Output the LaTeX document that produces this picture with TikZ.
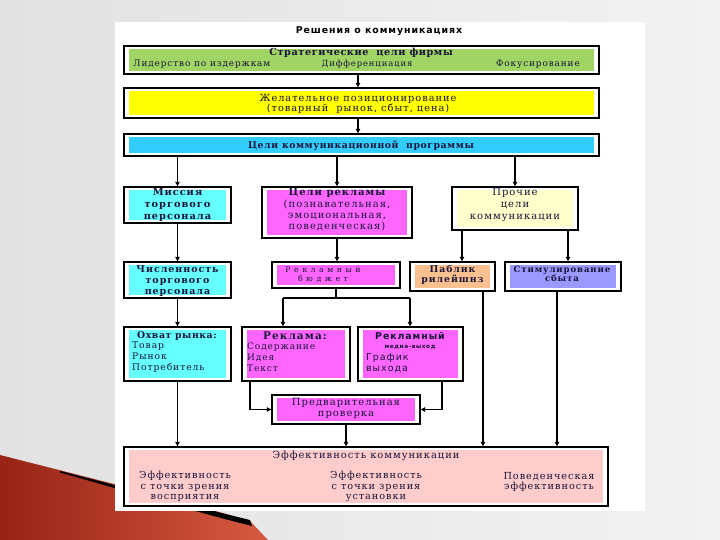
\documentclass[tikz,border=0pt]{standalone}
\usepackage{fontspec}
\setmainfont{DejaVu Serif}
\newfontfamily\dser[LetterSpace=10]{DejaVu Serif}
\newfontfamily\dsert[LetterSpace=6]{DejaVu Serif}
\newfontfamily\dserw[LetterSpace=45]{DejaVu Serif}
\newfontfamily\dsans[LetterSpace=10]{DejaVu Sans}
\usetikzlibrary{arrows.meta,calc}
\definecolor{bgL}{RGB}{226,226,226}
\definecolor{bgR}{RGB}{242,242,242}
\definecolor{swA}{RGB}{150,35,20}
\definecolor{swB}{RGB}{215,90,65}
\definecolor{cGreen}{RGB}{160,212,100}
\definecolor{cYellow}{RGB}{255,255,0}
\definecolor{cSky}{RGB}{51,204,255}
\definecolor{cCyan}{RGB}{102,255,255}
\definecolor{cMag}{RGB}{255,102,255}
\definecolor{cLYel}{RGB}{255,255,204}
\definecolor{cOrange}{RGB}{250,192,144}
\definecolor{cBlue}{RGB}{153,153,255}
\definecolor{cPink}{RGB}{255,204,204}
\definecolor{tcol}{RGB}{25,20,55}
\begin{document}
\begin{tikzpicture}[x=1pt,y=-1pt,
  cbox/.style={draw=black, line width=1.4pt, fill=white, rectangle, inner sep=0pt,
    path picture={\fill[#1] ([xshift=5pt,yshift=-3pt]path picture bounding box.north west) rectangle ([xshift=-5pt,yshift=3pt]path picture bounding box.south east);}},
  txt/.style={inner sep=0pt, text=tcol, align=center, font=\dser\fontsize{8}{11}\selectfont},
  arr/.style={line width=1.3pt, -{Triangle[length=4.5pt,width=4.5pt]}},
  ln/.style={line width=1.3pt}]
\useasboundingbox (0,0) rectangle (720,540);
% background
\shade[left color=bgL, right color=bgR] (0,0) rectangle (720,540);
\shade[left color=swA, right color=swB] (0,455) .. controls (90,478) and (180,500) .. (250,521) -- (268,540) -- (0,540) -- cycle;
\fill[black] (60,471) .. controls (150,494) and (200,508) .. (250,520) -- (252,526) .. controls (200,513) and (150,498) .. (60,472.5) -- cycle;
\fill[white] (115,22) rectangle (645,511);

% column coordinates
\coordinate (c358) at (358,0);
\coordinate (c462) at (462,0);
\coordinate (c568) at (568,0);
\coordinate (c283) at (283,0);
\coordinate (c410) at (410,0);
\coordinate (c250) at (250,0);
\coordinate (c442) at (442,0);
\coordinate (c483) at (483,0);
\coordinate (c557) at (557,0);
\coordinate (split) at (336,298);

% boxes
\node[cbox=cGreen, minimum width=475pt, minimum height=28pt] (b1) at (361.5,60) {};
\node[cbox=cYellow, minimum width=475pt, minimum height=30pt] (b2) at (361.5,103) {};
\node[cbox=cSky, minimum width=475pt, minimum height=22pt] (b3) at (361.5,145) {};
\node[cbox=cCyan, minimum width=107pt, minimum height=36pt] (m1) at (177.5,205) {};
\node[cbox=cMag, minimum width=150pt, minimum height=51pt] (r1) at (337,212.5) {};
\node[cbox=cLYel, minimum width=126pt, minimum height=43pt] (p1) at (515,208.5) {};
\node[cbox=cCyan, minimum width=107pt, minimum height=36pt] (m2) at (177.5,280) {};
\node[cbox=cMag, minimum width=128pt, minimum height=26pt] (r2) at (336,275) {};
\node[cbox=cOrange, minimum width=85pt, minimum height=29pt] (pr) at (452.5,276.5) {};
\node[cbox=cBlue, minimum width=116pt, minimum height=29pt] (st) at (563,276.5) {};
\node[cbox=cCyan, minimum width=107pt, minimum height=54pt] (m3) at (177.5,354) {};
\node[cbox=cMag, minimum width=108pt, minimum height=54pt] (r3) at (296,354) {};
\node[cbox=cMag, minimum width=105pt, minimum height=54pt] (r4) at (410.5,354) {};
\node[cbox=cMag, minimum width=148pt, minimum height=29pt] (pv) at (346,409.5) {};
\node[cbox=cPink, minimum width=484pt, minimum height=59pt] (ef) at (366,476.5) {};

% texts
\node[txt, text=black, font=\dsans\bfseries\fontsize{9.4}{9}\selectfont] (title) at (379,31) {Решения о коммуникациях};
\node[txt, font=\dsert\bfseries\fontsize{9.7}{10}\selectfont] (t1a) at (361,53) {Стратегические\ \ цели фирмы};
\node[txt, anchor=west, font=\dser\fontsize{8.9}{9}\selectfont] (t1b) at (133,64) {Лидерство по издержкам};
\node[txt, font=\dser\fontsize{8.5}{9}\selectfont] (t1c) at (367,64) {Дифференциация};
\node[txt, anchor=east, font=\dser\fontsize{8.9}{9}\selectfont] (t1d) at (580,64) {Фокусирование};
\node[txt, font=\dser\fontsize{9.8}{10.5}\selectfont] (t2) at (358,104) {Желательное позиционирование\\(товарный\ \ рынок, сбыт, цена)};
\node[txt, font=\dsert\bfseries\fontsize{9.3}{10}\selectfont] (t3) at (361,145.5) {Цели коммуникационной\ \ программы};
\node[txt, font=\dser\bfseries\fontsize{9.8}{12}\selectfont] (tm1) at (177.5,205) {Миссия\\торгового\\персонала};
\node[txt, font=\dser\fontsize{10}{11.3}\selectfont] (tr1) at (337,210) {\bfseries Цели рекламы\\(познавательная,\\эмоциональная,\\поведенческая)};
\node[txt, font=\dser\fontsize{10}{12}\selectfont] (tp1) at (515,205) {Прочие\\цели\\коммуникации};
\node[txt, font=\dser\bfseries\fontsize{9.5}{11}\selectfont] (tm2) at (177.5,281) {Численность\\торгового\\персонала};
\node[txt, font=\dserw\fontsize{7.8}{9}\selectfont] (tr2) at (323,274.5) {Рекламный\\бюджет};
\node[txt, font=\dser\bfseries\fontsize{9.3}{10}\selectfont] (tpr) at (452.5,275) {Паблик\\рилейшнз};
\node[txt, font=\dser\bfseries\fontsize{8.6}{9}\selectfont] (tst) at (562,273.5) {Стимулирование\\сбыта};
\node[txt, font=\dsert\bfseries\fontsize{9.3}{10}\selectfont] (tm3a) at (177,336) {Охват рынка:};
\node[txt, anchor=west, align=left, font=\dser\fontsize{9.2}{11}\selectfont] (tm3b) at (132,357) {Товар\\Рынок\\Потребитель};
\node[txt, font=\dser\bfseries\fontsize{10.5}{10}\selectfont] (tr3a) at (295,336) {Реклама:};
\node[txt, anchor=west, align=left, font=\dser\fontsize{9}{11}\selectfont] (tr3b) at (247,357) {Содержание\\Идея\\Текст};
\node[txt, font=\dsans\bfseries\fontsize{9.4}{10}\selectfont] (tr4a) at (410,336) {Рекламный};
\node[txt, font=\dsans\bfseries\fontsize{5.8}{7}\selectfont] (tr4b) at (410,347) {медиа-выход};
\node[txt, anchor=west, align=left, font=\dsans\fontsize{9.5}{11}\selectfont] (tr4c) at (366,363.5) {График\\выхода};
\node[txt, font=\dser\fontsize{10}{11}\selectfont] (tpv) at (346,408.5) {Предварительная\\проверка};
\node[txt, font=\dser\fontsize{9.9}{10}\selectfont] (tef) at (366,456) {Эффективность коммуникации};
\node[txt, font=\dser\fontsize{9.7}{10.5}\selectfont] (tefa) at (185,486.5) {Эффективность\\с точки зрения\\восприятия};
\node[txt, font=\dser\fontsize{9.7}{10.5}\selectfont] (tefb) at (376,486.5) {Эффективность\\с точки зрения\\установки};
\node[txt, font=\dser\fontsize{9.7}{10}\selectfont] (tefc) at (549,481.5) {Поведенческая\\эффективность};

% connectors
\draw[arr] (b1.south -| c358) -- (b2.north -| c358);
\draw[arr] (b2.south -| c358) -- (b3.north -| c358);
\draw[arr] (b3.south -| m1) -- (m1.north);
\draw[arr] (b3.south -| r1) -- (r1.north);
\draw[arr] (b3.south -| p1) -- (p1.north);
\draw[arr] (m1.south) -- (m2.north);
\draw[arr] (r1.south) -- (r1.south |- r2.north);
\draw[arr] (p1.south -| c462) -- (pr.north -| c462);
\draw[arr] (p1.south -| c568) -- (st.north -| c568);
\draw[arr] (m2.south) -- (m3.north);
\draw[ln] (r2.south) -- (split);
\draw[ln] (split -| c283) -- (split -| c410);
\draw[arr] (split -| c283) -- (r3.north -| c283);
\draw[arr] (split -| c410) -- (r4.north -| c410);
\draw[arr] (m3.south) -- (ef.north -| m3);
\draw[arr] (r3.south -| c250) |- (pv.west);
\draw[arr] (r4.south -| c442) |- (pv.east);
\draw[arr] (pv.south) -- (pv.south |- ef.north);
\draw[arr] (pr.south -| c483) -- (ef.north -| c483);
\draw[arr] (st.south -| c557) -- (ef.north -| c557);
\end{tikzpicture}
\end{document}
